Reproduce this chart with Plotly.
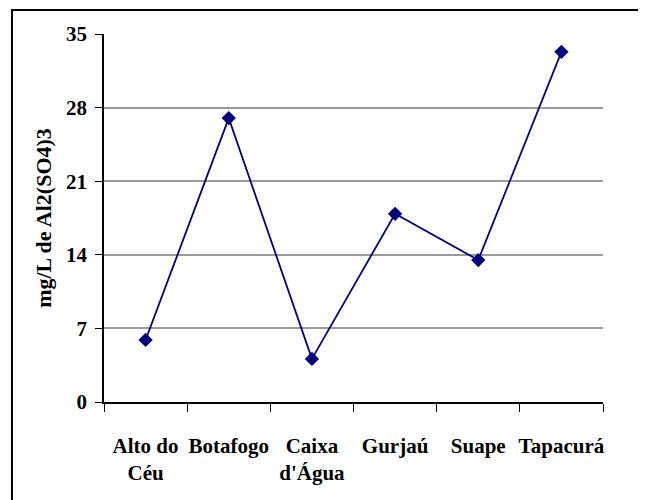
import plotly.graph_objects as go

categories = ["Alto do<br>Céu", "Botafogo", "Caixa<br>d'Água", "Gurjaú", "Suape", "Tapacurá"]
values = [5.9, 27.0, 4.1, 17.9, 13.5, 33.3]
y_ticks = [0, 7, 14, 21, 28, 35]
y_title = "mg/L de Al2(SO4)3"

FONT = "Liberation Serif"
NAVY = "#000080"

fig = go.Figure(
    go.Scatter(
        x=categories,
        y=values,
        mode="lines+markers",
        line=dict(color=NAVY, width=1.8),
        marker=dict(symbol="diamond", size=11, color=NAVY),
        cliponaxis=False,
    )
)

fig.update_layout(
    width=646,
    height=500,
    margin=dict(l=96, r=51, t=26, b=106),
    paper_bgcolor="white",
    plot_bgcolor="white",
    showlegend=False,
    font=dict(family=FONT, color="black"),
    xaxis=dict(
        type="category",
        range=[-0.5, 5.5],
        showline=True,
        linecolor="black",
        linewidth=1.5,
        ticks="outside",
        tickson="boundaries",
        ticklen=8,
        tickwidth=1.2,
        tickcolor="black",
        showgrid=False,
        tickangle=0,
        tickfont=dict(family=FONT, size=21, color="black"),
        ticktext=["<b>" + c.replace("<br>", "</b><br><b>") + "</b>" for c in categories],
        tickvals=categories,
        ticklabelstandoff=24,
        automargin=False,
    ),
    yaxis=dict(
        range=[0, 35],
        tickvals=y_ticks,
        ticktext=["<b>%d</b>" % v for v in y_ticks],
        showline=True,
        linecolor="black",
        linewidth=1.5,
        ticks="outside",
        ticklen=7,
        tickwidth=1.2,
        tickcolor="black",
        showgrid=True,
        gridcolor="#9a9a9a",
        gridwidth=1.5,
        zeroline=False,
        tickfont=dict(family=FONT, size=21, color="black"),
        ticklabelstandoff=4,
        title=dict(text="<b>" + y_title + "</b>", font=dict(family=FONT, size=22, color="black"), standoff=8),
        automargin=False,
    ),
    shapes=[
        dict(
            type="rect",
            xref="paper",
            yref="paper",
            x0=-0.1844,
            x1=1.0802,
            y0=-0.3,
            y1=1.0652,
            line=dict(color="black", width=2),
            fillcolor="rgba(0,0,0,0)",
            layer="below",
        )
    ],
)

fig.write_html("out.html")
